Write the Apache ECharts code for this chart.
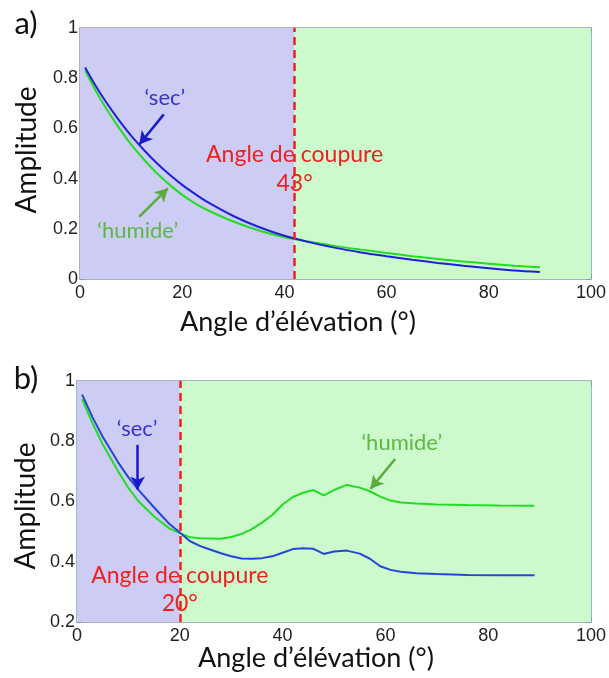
<!DOCTYPE html>
<html>
<head>
<meta charset="utf-8">
<script src="https://cdn.jsdelivr.net/npm/echarts@6/dist/echarts.min.js"></script>
<style>
  html, body { margin: 0; padding: 0; background: #fff; }
  #chart { width: 609px; height: 678px; }
</style>
</head>
<body>
<div id="chart"></div>
<script>
// a) angles et amplitudes
const anglesA = [1, 3, 5, 7.5, 10, 12.5, 15, 17.5, 20, 22.5, 25, 30, 35, 40, 45, 50, 55, 60, 65, 70, 75, 80, 85, 90];
const secA = [0.843, 0.772, 0.708, 0.636, 0.571, 0.514, 0.462, 0.416, 0.375, 0.339, 0.306, 0.251, 0.207, 0.172, 0.146, 0.124, 0.106, 0.091, 0.077, 0.064, 0.053, 0.043, 0.034, 0.028];
const humideA = [0.831, 0.753, 0.683, 0.606, 0.536, 0.476, 0.422, 0.376, 0.335, 0.301, 0.274, 0.229, 0.193, 0.166, 0.148, 0.131, 0.117, 0.104, 0.091, 0.08, 0.07, 0.061, 0.053, 0.047];
const cutA = 42;

// b)
const anglesB = [1, 3, 5, 8, 10, 12, 15, 18, 20, 22, 24, 26, 28, 30, 32, 34, 36, 38, 40, 42, 44, 46, 48, 50, 52.5, 55, 57, 59, 61, 63, 66, 70, 76, 82, 89];
const secB = [0.955, 0.88, 0.815, 0.73, 0.68, 0.638, 0.58, 0.525, 0.497, 0.468, 0.452, 0.44, 0.428, 0.418, 0.411, 0.41, 0.412, 0.418, 0.43, 0.442, 0.445, 0.443, 0.426, 0.434, 0.437, 0.427, 0.41, 0.385, 0.373, 0.367, 0.362, 0.359, 0.356, 0.355, 0.355];
const humideB = [0.94, 0.86, 0.79, 0.70, 0.645, 0.60, 0.55, 0.51, 0.495, 0.481, 0.478, 0.477, 0.476, 0.482, 0.492, 0.508, 0.53, 0.555, 0.59, 0.615, 0.629, 0.638, 0.62, 0.638, 0.655, 0.646, 0.634, 0.616, 0.603, 0.597, 0.593, 0.59, 0.588, 0.587, 0.586];
const cutB = 20;

const xTicks = [0, 20, 40, 60, 80, 100];

const BLUE = "#2020d8";
const GREEN = "#22dd22";
const RED = "#f02020";
const BOX = "#8a9bb0";
const FONT = "Lato, 'Open Sans', sans-serif";
const TICKFONT = "'Liberation Sans', Arial, sans-serif";

const zip = (xs, ys) => xs.map((x, i) => [x, ys[i]]);

function xAxes(g) {
	const base = {
		gridIndex: g,
		type: "value",
		min: xTicks[0],
		max: xTicks[xTicks.length - 1],
		interval: 20,
		splitLine: { show: false },
		axisLine: { show: true, onZero: false, lineStyle: { color: BOX, width: 1.5 } },
		axisTick: { show: true, inside: true, length: 5, lineStyle: { color: BOX } }
	};
	return [
		{ ...base, position: "bottom", axisLabel: { color: "#222", fontSize: 18, fontFamily: TICKFONT, margin: 5 } },
		{ ...base, position: "top", axisLabel: { show: false } }
	];
}
function yAxes(g, min) {
	const base = {
		gridIndex: g,
		type: "value",
		min: min,
		max: 1,
		interval: 0.2,
		splitLine: { show: false },
		axisLine: { show: true, onZero: false, lineStyle: { color: BOX, width: 1.5 } },
		axisTick: { show: true, inside: true, length: 5, lineStyle: { color: BOX } }
	};
	return [
		{ ...base, position: "left", axisLabel: { color: "#222", fontSize: 18, fontFamily: TICKFONT, margin: 2 } },
		{ ...base, position: "right", axisLabel: { show: false } }
	];
}

function textPoint(x, y, text, color, size) {
	return {
		coord: [x, y],
		symbol: "rect",
		symbolSize: 1,
		itemStyle: { color: "rgba(0,0,0,0)" },
		label: { show: true, position: "inside", formatter: text, color: color, fontSize: size, fontFamily: FONT }
	};
}
function arrow(from, to, color) {
	return [
		{ coord: from, symbol: "none", lineStyle: { color: color, width: 2.5, type: "solid" } },
		{ coord: to, symbol: "arrow", symbolSize: [11, 13] }
	];
}

function panel(g, xs, sec, hum, cut, notes) {
	return [
		{
			name: "sec",
			type: "line",
			xAxisIndex: g * 2,
			yAxisIndex: g * 2,
			data: zip(xs, sec),
			smooth: g === 0 ? 0.3 : false,
			symbol: "none",
			lineStyle: { color: notes.blue, width: 2 },
			z: 4,
			markArea: {
				silent: true,
				data: [
					[{ xAxis: 0, itemStyle: { color: "#ccccf4" } }, { xAxis: cut }],
					[{ xAxis: cut, itemStyle: { color: "#ccfacc" } }, { xAxis: 100 }]
				]
			},
			markLine: {
				silent: true,
				symbol: "none",
				label: { show: false },
				data: [
					[
						{ coord: [cut, notes.ymin], symbol: "none", lineStyle: { color: RED, width: 2.5, type: [8, 5] } },
						{ coord: [cut, 1], symbol: "none" }
					],
					arrow(notes.secArrow[0], notes.secArrow[1], "#1a1acc")
				]
			},
			markPoint: {
				silent: true,
				data: [
					textPoint(notes.secText[0], notes.secText[1], "‘sec’", "#3a32d0", 22),
					textPoint(cut, notes.cutText[0], "Angle de coupure", RED, 23),
					textPoint(cut, notes.cutText[1], cut === 42 ? "43°" : "20°", RED, 23)
				]
			}
		},
		{
			name: "humide",
			type: "line",
			xAxisIndex: g * 2,
			yAxisIndex: g * 2,
			data: zip(xs, hum),
			smooth: g === 0 ? 0.3 : false,
			symbol: "none",
			lineStyle: { color: GREEN, width: 2 },
			z: 3,
			markLine: {
				silent: true,
				symbol: "none",
				label: { show: false },
				data: [arrow(notes.humArrow[0], notes.humArrow[1], "#5aac3c")]
			},
			markPoint: {
				silent: true,
				data: [textPoint(notes.humText[0], notes.humText[1], "‘humide’", "#5cb843", 22)]
			}
		}
	];
}

const chart = echarts.init(document.getElementById("chart"));
chart.setOption({
	animation: false,
	backgroundColor: "#fff",
	grid: [
		{ left: 80, top: 28, width: 513, height: 251 },
		{ left: 77, top: 381, width: 514, height: 241 }
	],
	xAxis: [...xAxes(0), ...xAxes(1)],
	yAxis: [...yAxes(0, 0), ...yAxes(1, 0.2)],
	series: [
		...panel(0, anglesA, secA, humideA, cutA, {
			blue: BLUE,
			ymin: 0,
			secArrow: [[16.4, 0.656], [11.6, 0.536]],
			humArrow: [[11.6, 0.248], [17.2, 0.361]],
			secText: [16.6, 0.721],
			humText: [11.3, 0.191],
			cutText: [0.494, 0.382]
		}),
		...panel(1, anglesB, secB, humideB, cutB, {
			blue: "#2446d6",
			ymin: 0.2,
			secArrow: [[11.8, 0.788], [11.8, 0.64]],
			humArrow: [[61.9, 0.741], [57.1, 0.642]],
			secText: [11.7, 0.841],
			humText: [63.2, 0.794],
			cutText: [0.353, 0.26]
		})
	],
	graphic: [
		{ type: "text", x: 26, y: 24, style: { text: "a)", fontSize: 31, fontFamily: FONT, fill: "#111", align: "center", verticalAlign: "middle" } },
		{ type: "text", x: 26, y: 379, style: { text: "b)", fontSize: 31, fontFamily: FONT, fill: "#111", align: "center", verticalAlign: "middle" } },
		{ type: "text", x: 298, y: 322, style: { text: "Angle d’élévation (°)", fontSize: 27, fontFamily: FONT, fill: "#111", align: "center", verticalAlign: "middle" } },
		{ type: "text", x: 316, y: 658, style: { text: "Angle d’élévation (°)", fontSize: 27, fontFamily: FONT, fill: "#111", align: "center", verticalAlign: "middle" } },
		{ type: "text", x: 27, y: 150, rotation: Math.PI / 2, style: { text: "Amplitude", fontSize: 28, fontFamily: FONT, fill: "#111", align: "center", verticalAlign: "middle" } },
		{ type: "text", x: 26, y: 506, rotation: Math.PI / 2, style: { text: "Amplitude", fontSize: 28, fontFamily: FONT, fill: "#111", align: "center", verticalAlign: "middle" } }
	]
});
</script>
</body>
</html>
